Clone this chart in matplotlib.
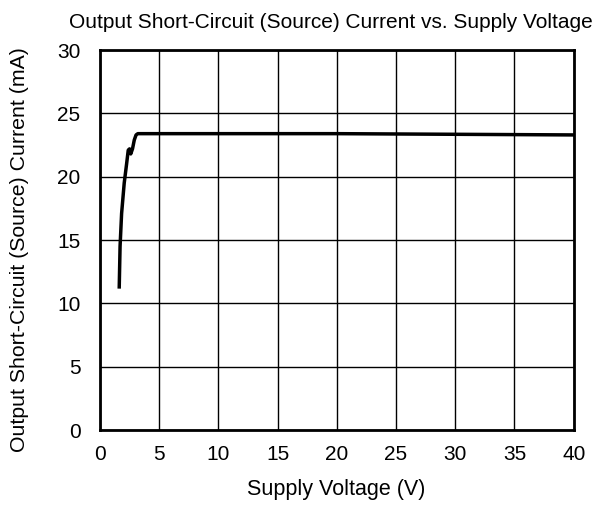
import matplotlib
matplotlib.use("Agg")
import matplotlib.pyplot as plt

plt.rcParams['font.family'] = ['Liberation Sans', 'DejaVu Sans']

voltage = [1.63, 1.7, 1.83, 2.05, 2.25, 2.39, 2.5, 2.6, 2.75, 2.9, 3.05, 3.2, 5, 10, 20, 30, 40]
current = [11.3, 14.5, 17.1, 19.5, 21.0, 22.1, 22.2, 21.8, 22.2, 22.9, 23.3, 23.4, 23.4, 23.4, 23.4, 23.35, 23.3]

xticks = [0, 5, 10, 15, 20, 25, 30, 35, 40]
yticks = [0, 5, 10, 15, 20, 25, 30]

fig = plt.figure(figsize=(6.02, 5.11), dpi=100)
ax = fig.add_axes([0.166, 0.1585, 0.787, 0.7435])
ax.plot(voltage, current, color='black', linewidth=2.5)
ax.set_xlim(0, 40)
ax.set_ylim(0, 30)
ax.set_xticks(xticks)
ax.set_yticks(yticks)
ax.grid(True, color='black', linewidth=1)
ax.tick_params(axis='x', length=0, labelsize=15, pad=11)
ax.tick_params(axis='y', length=0, labelsize=15, pad=14)
for s in ax.spines.values():
    s.set_linewidth(2)
fig.text(336.5 / 602, 1 - 490 / 511, 'Supply Voltage (V)', fontsize=15.5,
         ha='center', va='center')
fig.text(20 / 602, 1 - 250 / 511, 'Output Short-Circuit (Source) Current (mA)',
         fontsize=15.3, ha='center', va='center', rotation=90)
fig.text(331 / 602, 1 - 22 / 511, 'Output Short-Circuit (Source) Current vs. Supply Voltage',
         fontsize=15, ha='center', va='center')
fig.savefig('out.png', dpi=100)
